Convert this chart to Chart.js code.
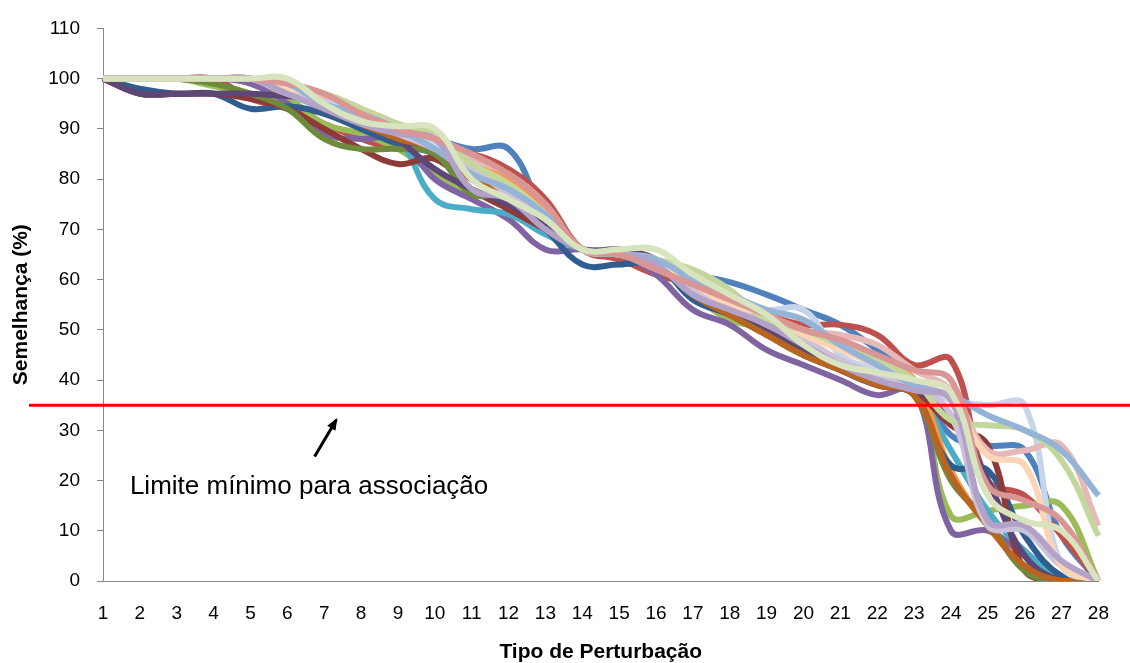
<!DOCTYPE html>
<html>
<head>
<meta charset="utf-8">
<title>Semelhança por tipo de perturbação</title>
<script src="https://cdn.jsdelivr.net/npm/chart.js@4.4.0/dist/chart.umd.min.js"></script>
<style>
  html, body { margin: 0; padding: 0; background: #ffffff; }
  #wrap { width: 1130px; height: 663px; }
</style>
</head>
<body>
<div id="wrap"><canvas id="chart" width="1130" height="663"></canvas></div>
<script>
// ── Eixos ──
const categories = ['1','2','3','4','5','6','7','8','9','10','11','12','13','14',
  '15','16','17','18','19','20','21','22','23','24','25','26','27','28'];
const yTicks = [0, 10, 20, 30, 40, 50, 60, 70, 80, 90, 100, 110];
const limiteMinimo = 35;

// ── Séries ──
const serieAzul      = [100,100,100,100,100,98,95,92,90,88,86,86,73,66,65,63,61,59.5,57,54,51,46,40,29,27,26,9,0];
const serieVermelha  = [100,100,100,100,96,94,91,88,86,86,85,82,76,66,64,61,59,56,53,51,51,49,43,44,20,17,9,0];
const serieVerde     = [100,100,100,98.5,97,96,91,89,86,81,77,77,72,66,65,63,57,52,50,45,43,41,40,13,14,15,15,0];
const serieRoxa      = [100,100,100,100,99,95,89,88,88,80,76,72,66,66,65,61,54,51,46,43,40,37,38,10,10,5,0,0];
const serieCiano     = [100,100,100,100,100,97,94,91,88,76,74,73,69,66,65,63,58,55,51,47,44,41,38,26,14,6,1,0];
const serieLaranja   = [100,100,100,100,100,99,96,93,90,88,84,80,74,66,65,63,60,56,53,50,47,44,40,22,11,3,0,0];
const serieAzulEsc   = [100,98,97,97,94,94.5,93,90,87,85,80,76,70,63,63,63,56,53,49,45,42,39,37,23,22,9,1,0];
const serieVermEsc   = [100,97,97,97,96,94,90,86,83,84,78,74,70,66,65,63,57,53,50,45,43,40,38,31,27,2,0,0];
const serieVerdeEsc  = [100,100,100,99,97,94,88,86,86,85,77,77,72,66,65,63,57,53,49,45,43,40,37,20,12,2,0,0];
const serieRoxaEsc   = [100,97,97,97,97,96.5,96,94,88,82,78,75,71,66,66,64,58,54,50,46,42,39,38,33,20,5,0,0];
const serieMarrom    = [100,100,100,100,100,98,94,91,88,86,80,77,72,66,65,63,57,53,49,45,42,39,37,21,11,3,0,0];
const serieAzulClaro = [100,100,100,100,100,99,96,93,90,87,82,79,73,66,65,63,59,56,54,54,45,42,39,36,35,35,3,0];
const serieRosa      = [100,100,100,100,100,97,96.5,94,91,88,84,81,75,66,65,63,61,57,53,50,49,47,42,38,26,26,27,11];
const serieVerdeClaro= [100,100,100,100,100,100,95,91.5,90.5,90,80,76,72,66,66,66,61,57,53,47,43,41.5,40,37.5,17,12,10,0];
const serieLavanda   = [100,100,100,100,100,98,95,92,89,86,82,77,72,66,65,64,58,55,51,48,44,41,39,33,11,10,3,0];
const seriePessego   = [100,100,100,100,100,98,97,94,90,88,83,79,73,66,65,63,59,55,53,49,46,43,40,36,25,23,3,0];
const serieVerdeMed  = [100,100,100,100,100,99,97,94,91,89,83,79,73,66,65,64,62,58,52,50,47,44,40,32,31,30,24,9];
const serieAzulMed   = [100,100,100,100,100,99,95,93,90,86,81,78,73,66,65,64,60,57,54,52,47,43,39,37,33,30,26,17];
const serieLilas     = [100,100,100,100,100,97,94,91,89,88,78,76,70,66,65,63,57,54,51,47,43,40,38,36,12,11,4,0];
const serieSalmao    = [100,100,100,100,100,99,97,93,90,88,85,81,75,66,65,62,59,56,53,50,48,45,42,40,19,16,12,0];

const series = [
  { data: serieAzul,       color: '#4F81BD' },
  { data: serieVermelha,   color: '#C0504D' },
  { data: serieVerde,      color: '#9BBB59' },
  { data: serieRoxa,       color: '#8064A2' },
  { data: serieCiano,      color: '#4BACC6' },
  { data: serieLaranja,    color: '#F79646' },
  { data: serieAzulEsc,    color: '#2F5D8F' },
  { data: serieVermEsc,    color: '#8E3A38' },
  { data: serieVerdeEsc,   color: '#6E8B3D' },
  { data: serieRoxaEsc,    color: '#5C4776' },
  { data: serieMarrom,     color: '#B7651F' },
  { data: serieAzulClaro,  color: '#C6D5EA' },
  { data: serieRosa,       color: '#E6B9B8' },
  { data: serieLavanda,    color: '#CCC1DA' },
  { data: seriePessego,    color: '#FCD5B5' },
  { data: serieVerdeMed,   color: '#C3D69B' },
  { data: serieAzulMed,    color: '#95B3D7' },
  { data: serieLilas,      color: '#B3A2C7' },
  { data: serieSalmao,     color: '#D99694' },
  { data: serieVerdeClaro, color: '#D7E4BD' }
];

// ── Linha de limite + anotação ──
const limitePlugin = {
  id: 'limite',
  afterDatasetsDraw(chart) {
    const { ctx, scales: { x, y } } = chart;
    const yPix = y.getPixelForValue(limiteMinimo);
    ctx.save();
    ctx.strokeStyle = '#FF0000';
    ctx.lineWidth = 3;
    ctx.beginPath();
    ctx.moveTo(29, yPix);
    ctx.lineTo(chart.width, yPix);
    ctx.stroke();

    // seta
    const px = v => x.left + (v - 1) * (x.right - x.left) / (categories.length - 1);
    const x0 = px(6.74), y0 = y.getPixelForValue(24.8);
    const x1 = px(7.33), y1 = y.getPixelForValue(32.1);
    ctx.strokeStyle = '#000000';
    ctx.fillStyle = '#000000';
    ctx.lineWidth = 3;
    ctx.beginPath();
    ctx.moveTo(x0, y0);
    ctx.lineTo(x1, y1);
    ctx.stroke();
    const ang = Math.atan2(y1 - y0, x1 - x0);
    const head = 11;
    ctx.beginPath();
    ctx.moveTo(x1 + 2 * Math.cos(ang), y1 + 2 * Math.sin(ang));
    ctx.lineTo(x1 - head * Math.cos(ang - 0.45), y1 - head * Math.sin(ang - 0.45));
    ctx.lineTo(x1 - head * Math.cos(ang + 0.45), y1 - head * Math.sin(ang + 0.45));
    ctx.closePath();
    ctx.fill();

    // texto
    ctx.font = "26px 'Liberation Sans', Arial, sans-serif";
    ctx.textBaseline = 'alphabetic';
    ctx.textAlign = 'left';
    ctx.fillText('Limite mínimo para associação', px(1.73), 494);
    ctx.restore();
  }
};

const n = series.length;
new Chart(document.getElementById('chart').getContext('2d'), {
  type: 'line',
  data: {
    labels: categories,
    datasets: series.map((s, i) => ({
      data: s.data,
      borderColor: s.color,
      backgroundColor: s.color,
      borderWidth: 6,
      pointRadius: 0,
      pointHoverRadius: 0,
      tension: 0.4,
      fill: false,
      order: n - i   // última série por cima, como no Excel
    }))
  },
  options: {
    responsive: false,
    devicePixelRatio: 1,
    animation: false,
    layout: { padding: { top: 23, right: 30, left: 0, bottom: 0 } },
    plugins: {
      legend: { display: false },
      tooltip: { enabled: false }
    },
    scales: {
      x: {
        offset: false,
        grid: { display: false, drawTicks: false },
        border: { display: true, color: '#868686', width: 1 },
        ticks: {
          color: '#000000',
          maxRotation: 0,
          autoSkip: false,
          padding: 21,
          font: { size: 19, family: "'Liberation Sans', Arial, sans-serif" }
        },
        title: {
          display: true,
          text: 'Tipo de Perturbação',
          color: '#000000',
          padding: { top: 0, bottom: 0 },
          font: { size: 21, weight: 'bold', lineHeight: 1, family: "'Liberation Sans', Arial, sans-serif" }
        },
        afterFit(scale) { scale.height = 82; }
      },
      y: {
        min: 0,
        max: 110,
        afterBuildTicks(scale) { scale.ticks = yTicks.map(v => ({ value: v })); },
        grid: { drawOnChartArea: false, drawTicks: true, tickLength: 6, color: '#868686' },
        border: { display: true, color: '#868686', width: 1 },
        ticks: {
          color: '#000000',
          padding: 17,
          font: { size: 19, family: "'Liberation Sans', Arial, sans-serif" }
        },
        title: {
          display: true,
          text: 'Semelhança (%)',
          color: '#000000',
          padding: { top: 11, bottom: 0 },
          font: { size: 21, weight: 'bold', lineHeight: 1, family: "'Liberation Sans', Arial, sans-serif" }
        },
        afterFit(scale) { scale.width = 103; }
      }
    }
  },
  plugins: [limitePlugin]
});
</script>
</body>
</html>
